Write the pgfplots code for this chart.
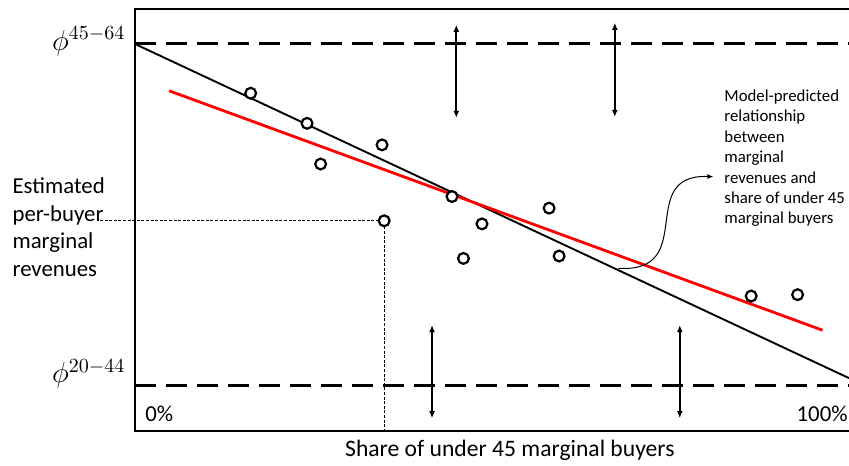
\documentclass[border=0pt]{standalone}
\usepackage{pgfplots}
\pgfplotsset{compat=1.18}
\usepackage{pgfplotstable}
\usetikzlibrary{arrows.meta}
\usepackage{fontspec}
\setmainfont{Carlito}

\pgfplotstableread{
x y
16.2 85.6
24.1 76.8
26.0 64.9
34.6 70.5
34.9 48.3
44.4 55.4
48.6 47.4
46.0 37.3
58.0 52.0
59.4 38.0
86.3 26.3
92.8 26.7
}\points

\begin{document}
\begin{tikzpicture}
\useasboundingbox (-67.5pt,-17pt) rectangle (357pt,215.5pt);
\begin{axis}[
  scale only axis, width=357pt, height=211pt,
  at={(0,0)}, anchor=south west,
  xmin=0, xmax=100, ymin=-13.16, ymax=110.23,
  axis line style={draw=none}, ticks=none, clip=false,
]
% frame
\draw[line width=1.4pt] (axis cs:100,110.23) -- (axis cs:0,110.23) -- (axis cs:0,-13.16) -- (axis cs:100,-13.16);
% phi levels
\addplot[black, line width=1.5pt, dash pattern=on 10.5pt off 5pt] coordinates {(0,100) (100,100)};
\addplot[black, line width=1.5pt, dash pattern=on 10.5pt off 5pt] coordinates {(0,0) (100,0)};
% lines
\addplot[black, line width=0.95pt] coordinates {(0,100) (100,2.3)};
\addplot[red, line width=1.4pt] coordinates {(4.8,86.3) (96.3,16.3)};
% dotted guides
\draw[line width=0.45pt, dash pattern=on 1.5pt off 0.8pt] (axis cs:-4.9,48.3) -- (axis cs:34.9,48.3) -- (axis cs:34.9,-13.16);
% points
\addplot[only marks, mark=*, mark size=2.7pt, mark options={draw=black, fill=white, line width=1.1pt}] table {\points};
% double arrows
\draw[{Latex[length=3.5pt,width=3pt]}-{Latex[length=3.5pt,width=3pt]}, line width=0.9pt] (axis cs:45.0,78.4) -- (axis cs:45.0,105.6);
\draw[{Latex[length=3.5pt,width=3pt]}-{Latex[length=3.5pt,width=3pt]}, line width=0.9pt] (axis cs:67.2,78.7) -- (axis cs:67.2,106.2);
\draw[{Latex[length=3.5pt,width=3pt]}-{Latex[length=3.5pt,width=3pt]}, line width=0.9pt] (axis cs:41.6,-9.4) -- (axis cs:41.6,17.8);
\draw[{Latex[length=3.5pt,width=3pt]}-{Latex[length=3.5pt,width=3pt]}, line width=0.9pt] (axis cs:76.3,-9.4) -- (axis cs:76.3,17.8);
% curved annotation arrow
\draw[-{Latex[length=3pt,width=2.5pt]}, line width=0.5pt] (axis cs:67.7,34.4) .. controls (axis cs:79,33) and (axis cs:70,62) .. (axis cs:81,61.2);
% texts
\node[anchor=base west, align=left, inner sep=0, font=\fontsize{8.4pt}{10.2pt}\selectfont] at (axis cs:82.5,47.4) {Model-predicted\\relationship\\between\\marginal\\revenues and\\share of under 45\\marginal buyers};
\node[anchor=base west, align=left, inner sep=0, font=\fontsize{11.4pt}{13.85pt}\selectfont] at (axis cs:-17.2,32.0) {Estimated\\per-buyer\\marginal\\revenues};
\node[anchor=base east, inner sep=0, font=\fontsize{14pt}{16pt}\selectfont] at (axis cs:-1.3,98.2) {$\phi^{45-64}$};
\node[anchor=base east, inner sep=0, font=\fontsize{14pt}{16pt}\selectfont] at (axis cs:-1.3,0.9) {$\phi^{20-44}$};
\node[anchor=base west, inner sep=0, font=\fontsize{11.4pt}{13.85pt}\selectfont] at (axis cs:1.4,-10.5) {0\%};
\node[anchor=base east, inner sep=0, font=\fontsize{11.4pt}{13.85pt}\selectfont] at (axis cs:99.86,-10.5) {100\%};
\node[anchor=base, inner sep=0, font=\fontsize{11.8pt}{14pt}\selectfont] at (axis cs:52.5,-20.7) {Share of under 45 marginal buyers};
\end{axis}
\end{tikzpicture}
\end{document}
